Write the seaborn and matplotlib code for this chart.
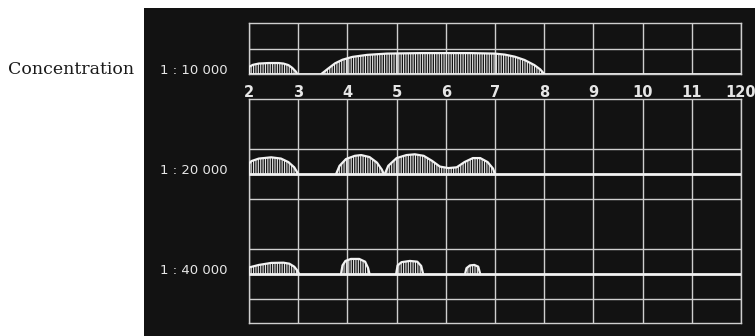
import matplotlib
matplotlib.use("Agg")
import matplotlib.pyplot as plt
import pandas as pd
import seaborn as sns
from matplotlib.patches import Rectangle

# ---------------------------------------------------------------------------
# Data (heights in grid units)
# ---------------------------------------------------------------------------
x_ticks = [2, 3, 4, 5, 6, 7, 8, 9, 10, 11, 12]
x_tick_labels = ["2", "3", "4", "5", "6", "7", "8", "9", "10", "11", "120"]
row_labels = ["1 : 10 000", "1 : 20 000", "1 : 40 000"]

# 1:10 000
c10_x = [
    [2.0, 2.0, 2.08, 2.2, 2.4, 2.6, 2.7, 2.8, 2.88, 2.95, 2.98],
    [3.47, 3.6, 3.75, 3.9, 4.1, 4.4, 4.8, 5.5, 6.5, 7.0, 7.2, 7.4, 7.6, 7.8, 7.92, 8.0],
]
c10_y = [
    [0, 0.28, 0.36, 0.41, 0.43, 0.43, 0.41, 0.35, 0.24, 0.1, 0],
    [0, 0.2, 0.42, 0.56, 0.67, 0.75, 0.8, 0.82, 0.82, 0.8, 0.76, 0.68, 0.55, 0.35, 0.18, 0],
]

# 1:20 000
c20_x = [
    [2.0, 2.0, 2.05, 2.2, 2.45, 2.65, 2.8, 2.92, 3.0],
    [3.77, 3.84, 3.97, 4.15, 4.28, 4.45, 4.6, 4.7, 4.74],
    [4.76, 4.83, 5.0, 5.2, 5.37, 5.55, 5.72, 5.88, 6.05, 6.22, 6.38, 6.55, 6.7, 6.85, 6.96, 7.0],
]
c20_y = [
    [0, 0.42, 0.52, 0.62, 0.67, 0.62, 0.48, 0.27, 0],
    [0, 0.33, 0.6, 0.73, 0.76, 0.68, 0.46, 0.18, 0],
    [0, 0.33, 0.64, 0.76, 0.79, 0.73, 0.53, 0.3, 0.24, 0.27, 0.48, 0.64, 0.64, 0.48, 0.22, 0],
]

# 1:40 000
c40_x = [
    [2.0, 2.0, 2.2, 2.45, 2.7, 2.82, 2.92, 2.98, 3.02],
    [3.87, 3.9, 3.96, 4.07, 4.24, 4.36, 4.42, 4.45],
    [4.99, 5.02, 5.1, 5.27, 5.42, 5.5, 5.54],
    [6.39, 6.42, 6.49, 6.58, 6.66, 6.7],
]
c40_y = [
    [0, 0.27, 0.37, 0.45, 0.46, 0.42, 0.3, 0.15, 0],
    [0, 0.35, 0.53, 0.61, 0.61, 0.5, 0.25, 0],
    [0, 0.35, 0.48, 0.53, 0.5, 0.33, 0],
    [0, 0.24, 0.35, 0.37, 0.3, 0],
]

# ---------------------------------------------------------------------------
W, H = 755, 336
GRID = "#cfcfcf"
LINE = "#f2f2f2"
BG = "#121212"

sns.set_theme(style="dark", rc={"axes.facecolor": "none", "hatch.linewidth": 0.8})
plt.rcParams["font.family"] = ["DejaVu Sans"]

fig = plt.figure(figsize=(W / 100, H / 100), dpi=100, facecolor="white")
fig.add_artist(Rectangle((144 / W, 0), 1 - 144 / W, 328 / H,
                         transform=fig.transFigure, facecolor=BG,
                         edgecolor="none", zorder=-1))

ax_top = fig.add_axes([249 / W, 1 - 74 / H, 492 / W, 51 / H])
ax_low = fig.add_axes([249 / W, 1 - 323 / H, 492 / W, 224 / H])

ax_top.set_ylim(0, 2)
ax_low.set_ylim(-5.95, 3)
ax_top.set_yticks([1])
ax_low.set_yticks([1, -1, -3, -5])

for ax in (ax_top, ax_low):
    ax.set_xlim(2, 12)
    ax.set_xticks(x_ticks)
    ax.grid(True, color=GRID, linewidth=1.0)
    ax.set_axisbelow(True)
    ax.tick_params(axis="both", length=0)
    ax.set_yticklabels([])
    for sp in ax.spines.values():
        sp.set_visible(True)
        sp.set_color(GRID)
        sp.set_linewidth(1.0)

ax_low.set_xticklabels([])
ax_top.set_xticklabels(x_tick_labels, fontweight="bold", fontsize=10.5, color="#e6e6e6")
ax_top.tick_params(axis="x", pad=8)

rows = [(ax_top, 0, c10_x, c10_y), (ax_low, 0, c20_x, c20_y), (ax_low, -4, c40_x, c40_y)]

for (ax, base, xs_list, ys_list), label in zip(rows, row_labels):
    ax.axhline(base, color=LINE, linewidth=2.0, zorder=3)
    for xs, ys in zip(xs_list, ys_list):
        top = [base + v for v in ys]
        ax.fill_between(xs, base, top, facecolor="none", edgecolor="#e4e4e4",
                        hatch="|" * 7, linewidth=0, zorder=2)
        df = pd.DataFrame({"x": xs, "y": top})
        sns.lineplot(data=df, x="x", y="y", ax=ax, color=LINE, linewidth=1.6,
                     sort=False, estimator=None, zorder=4)
    ax.annotate(label, xy=(0, base), xycoords=("axes fraction", "data"),
                xytext=(-21, 4), textcoords="offset pixels",
                ha="right", va="center", color="#e6e6e6", fontsize=9.5)

for ax in (ax_top, ax_low):
    ax.set_xlabel("")
    ax.set_ylabel("")

fig.text(8 / W, 1 - 70 / H, "Concentration", family=["DejaVu Serif"],
         fontsize=12.5, color="#1a1a1a", ha="left", va="center")

fig.savefig("out.png", dpi=100, facecolor="white")
